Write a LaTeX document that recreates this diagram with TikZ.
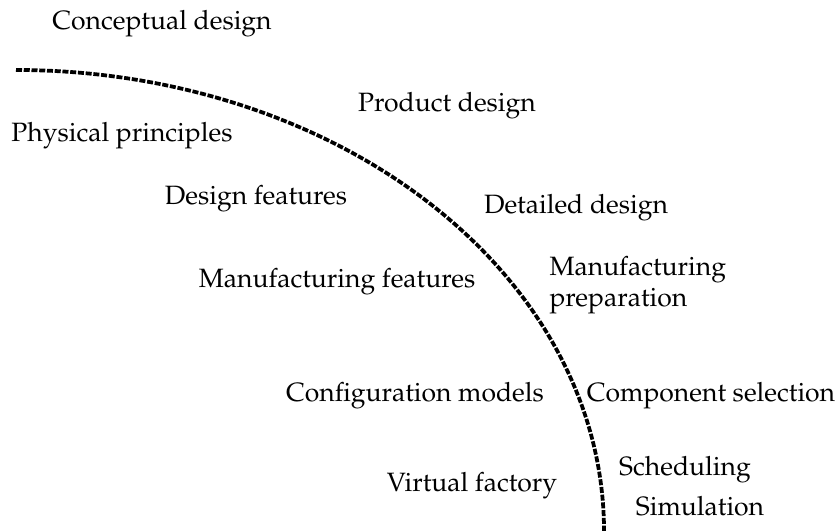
\documentclass[tikz,border=0pt]{standalone}
\usepackage[T1]{fontenc}
\usepackage{mathpazo}
\usetikzlibrary{positioning}

\tikzset{
  stage/.style={font=\fontsize{10.6}{12.5}\selectfont, inner sep=0pt},
  boundary/.style={line width=1.5pt, dash pattern=on 2.4pt off 0.7pt}
}

\begin{document}
\begin{tikzpicture}[x=0.4pt, y=-0.4pt]
        \useasboundingbox (0,0) rectangle (837,531);

        % dividing curve (quarter ellipse)
        \draw[boundary] (16,70) arc[start angle=90, end angle=-2, x radius=235.2pt, y radius=184.4pt];

        % design side
        \node[stage] (concept) at (162,24) {Conceptual design};
        \node[stage] (physical) at (122,136) {Physical principles};
        \node[stage] (features) at (256,199) {Design features};
        \node[stage] (mfgfeat) at (337,282) {Manufacturing features};
        \node[stage] (config) at (415,396) {Configuration models};
        \node[stage] (virtual) at (472,486) {Virtual factory};

        % process side
        \node[stage] (product) at (447,106) {Product design};
        \node[stage] (detailed) at (576,208) {Detailed design};
        \node[stage, align=left, anchor=west] (mfgprep) at (549,285) {Manufacturing\\preparation};
        \node[stage] (component) at (711,396) {Component selection};
        \node[stage] (sched) at (685,470) {Scheduling};
        \node[stage] (sim) at (700,506) {Simulation};

    \end{tikzpicture}
\end{document}
